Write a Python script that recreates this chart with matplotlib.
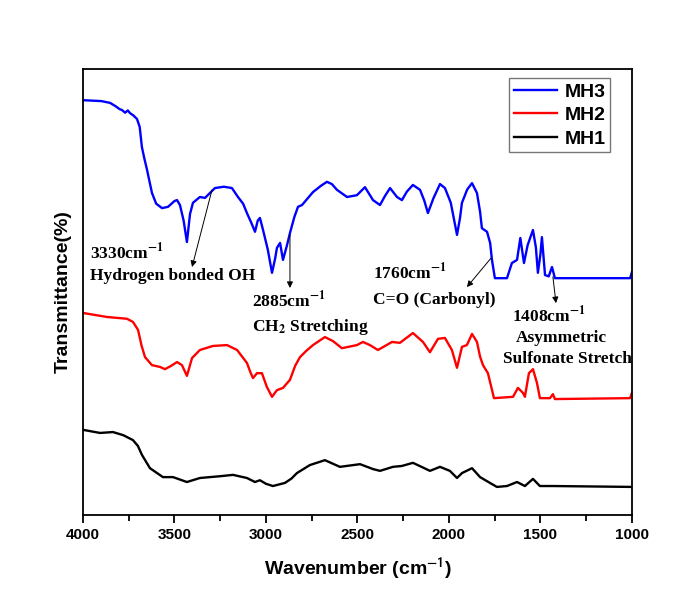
import numpy as np
import matplotlib
matplotlib.use("Agg")
import matplotlib.pyplot as plt
from matplotlib.ticker import MultipleLocator

plt.rcParams['font.family'] = ['Liberation Sans', 'DejaVu Sans']

# FTIR spectra (arbitrary transmittance units, offset curves)
mh3_w = [4000, 3900, 3852, 3820, 3800, 3787, 3770, 3755, 3743, 3725, 3705, 3690, 3678, 3665,
         3650, 3635, 3623, 3600, 3568, 3535, 3500, 3486, 3470, 3450, 3432, 3415, 3399,
         3361, 3333, 3279, 3230, 3186, 3153, 3125, 3104, 3080, 3060, 3045, 3033, 3016, 2990,
         2967, 2950, 2940, 2923, 2907, 2885, 2869, 2845,
         2825, 2803, 2743, 2700, 2667, 2640, 2612, 2557, 2503, 2459, 2415, 2377, 2350, 2322,
         2284, 2257, 2230, 2197, 2158, 2135, 2115, 2085, 2049, 2022, 1990, 1956, 1940, 1929,
         1900, 1874, 1847, 1830, 1820, 1792, 1775, 1765, 1749, 1683, 1656,
         1628, 1610, 1590, 1570, 1541, 1525, 1514, 1500, 1492, 1475, 1455, 1437, 1421, 1010, 1000]
mh3_t = [93.0, 92.8, 92.4, 91.6, 91.0, 90.8, 90.2, 90.7, 90.1, 89.6, 88.8, 87.0, 82.5, 80.0,
         77.4, 74.5, 72.2, 69.8, 68.8, 69.1, 70.4, 70.6, 69.5, 66.0, 61.2, 67.5, 70.0,
         71.3, 71.1, 73.3, 73.6, 73.3, 71.3, 69.8, 67.7, 65.5, 63.5, 66.0, 66.6, 63.9, 59.5,
         54.3, 57.5, 59.9, 61.0, 57.2, 60.5, 63.2, 66.8,
         69.1, 69.5, 72.4, 73.8, 74.7, 74.2, 72.9, 71.3, 71.7, 73.5, 70.6, 69.5, 71.5, 73.3,
         71.3, 70.6, 72.5, 74.0, 72.9, 70.5, 67.7, 71.0, 74.2, 73.3, 70.0, 62.8, 66.5, 70.0,
         73.0, 74.4, 72.2, 68.0, 64.3, 63.5, 61.0, 57.2, 53.1, 53.1, 56.5,
         57.2, 62.1, 56.5, 60.5, 63.9, 60.0, 54.3, 58.5, 62.3, 53.8, 53.5, 55.6, 53.1, 53.1, 54.5]

mh2_w = [4000, 3869, 3760, 3727, 3699, 3680, 3661, 3623, 3579, 3552, 3520, 3486, 3459, 3432,
         3404, 3361, 3290, 3213, 3158, 3104, 3085, 3071, 3049, 3022, 2995, 2967, 2940, 2907,
         2869, 2840, 2814, 2780, 2743, 2678, 2634, 2585, 2503, 2470, 2432, 2388, 2311, 2268,
         2197, 2142, 2104, 2060, 2022, 1984, 1956, 1929, 1902, 1874, 1847, 1830, 1814, 1787,
         1754, 1650, 1623, 1596, 1585, 1563, 1541, 1519, 1503, 1448, 1432, 1421, 1010, 1000]
mh2_t = [45.3, 44.4, 44.0, 43.3, 41.5, 38.0, 35.4, 33.6, 33.2, 32.7, 33.4, 34.3, 33.6, 31.2,
         35.2, 37.0, 37.9, 38.1, 37.0, 34.1, 32.0, 30.7, 31.8, 31.8, 28.7, 26.5, 28.0, 28.5,
         30.3, 33.5, 35.4, 36.8, 38.1, 39.9, 39.0, 37.4, 38.1, 38.8, 38.1, 37.0, 38.8, 38.6,
         40.8, 38.8, 36.5, 39.5, 39.7, 37.0, 33.0, 37.7, 38.1, 40.6, 38.8, 35.5, 33.6, 31.8,
         26.2, 26.5, 28.5, 27.4, 26.5, 31.8, 32.7, 29.6, 26.2, 26.2, 27.1, 26.0, 26.2, 27.4]

mh1_w = [4000, 3907, 3836, 3780, 3727, 3700, 3678, 3634, 3563, 3508, 3432, 3361, 3251, 3180,
         3104, 3060, 3033, 3000, 2962, 2896, 2860, 2831, 2760, 2678, 2596, 2486, 2415, 2377,
         2306, 2257, 2197, 2150, 2104, 2049, 1995, 1956, 1929, 1874, 1830, 1776, 1738, 1683,
         1628, 1585, 1541, 1503, 1432, 1000]
mh1_t = [19.1, 18.4, 18.6, 17.9, 16.8, 15.5, 13.5, 10.5, 8.5, 8.5, 7.4, 8.3, 8.7, 9.0,
         8.3, 7.4, 7.8, 7.0, 6.5, 7.2, 8.2, 9.4, 11.2, 12.3, 10.8, 11.4, 10.3, 9.9,
         10.8, 11.0, 11.7, 10.8, 9.9, 10.8, 9.9, 8.3, 9.4, 10.5, 8.5, 7.2, 6.3, 6.5,
         7.4, 6.5, 8.1, 6.5, 6.5, 6.3]

fig = plt.figure(figsize=(6.73, 5.89), dpi=100)
ax = fig.add_axes([0.1233, 0.1256, 0.8157, 0.7573])

ax.plot(mh3_w, mh3_t, color="#0000ff", lw=1.7, label="MH3")
ax.plot(mh2_w, mh2_t, color="#ff0000", lw=1.7, label="MH2")
ax.plot(mh1_w, mh1_t, color="#000000", lw=1.7, label="MH1")

ax.set_xlim(4000, 1000)
ax.set_ylim(0, 100)
ax.xaxis.set_major_locator(MultipleLocator(500))
ax.xaxis.set_minor_locator(MultipleLocator(250))
ax.tick_params(axis='x', which='major', direction='out', length=6, width=1.3, labelsize=11)
ax.tick_params(axis='x', which='minor', direction='out', length=4, width=1.3)
for lab in ax.get_xticklabels():
    lab.set_fontweight('bold')
ax.set_yticks([])
for s in ax.spines.values():
    s.set_linewidth(1.3)

ax.set_xlabel(r"Wavenumber (cm$^{\mathbf{-1}}$)", fontsize=14, fontweight='bold',
              math_fontfamily='stixsans', labelpad=10)
ax.set_ylabel("Transmittance(%)", fontsize=14, fontweight='bold', labelpad=8)

leg = ax.legend(loc='upper right', bbox_to_anchor=(0.968, 0.988),
                prop={'weight': 'bold', 'size': 14}, frameon=True, fancybox=False,
                handlelength=2.2, borderpad=0.25, labelspacing=0.3, handletextpad=0.4,
                borderaxespad=0.2)
leg.get_frame().set_edgecolor('#555555')
leg.get_frame().set_linewidth(1.0)

# annotations
tkw = dict(fontsize=12.5, fontweight='bold', family='Liberation Serif', math_fontfamily='stix')
ax.text(3962, 59.0, r"3330cm$^{\mathbf{-1}}$", ha='left', va='center', **tkw)
ax.text(3962, 53.6, "Hydrogen bonded OH", ha='left', va='center', **tkw)
ax.text(3077, 48.2, r"2885cm$^{\mathbf{-1}}$", ha='left', va='center', **tkw)
ax.text(3077, 42.2, r"CH$_{\mathbf{2}}$ Stretching", ha='left', va='center', **tkw)
ax.text(2415, 54.5, r"1760cm$^{\mathbf{-1}}$", ha='left', va='center', **tkw)
ax.text(2415, 48.2, "C=O (Carbonyl)", ha='left', va='center', **tkw)
ax.text(1656, 44.8, r"1408cm$^{\mathbf{-1}}$", ha='left', va='center', **tkw)
ax.text(1383, 39.7, "Asymmetric", ha='center', va='center', **tkw)
ax.text(1355, 35.0, "Sulfonate Stretch", ha='center', va='center', **tkw)

akw = dict(arrowstyle='-|>', color='black', lw=0.7, mutation_scale=9, shrinkA=0, shrinkB=0)
ax.annotate("", xy=(3404, 55.6), xytext=(3295, 72.9), arrowprops=akw)
ax.annotate("", xy=(2869, 50.9), xytext=(2869, 62.8), arrowprops=akw)
ax.annotate("", xy=(1902, 51.1), xytext=(1770, 57.6), arrowprops=akw)
ax.annotate("", xy=(1415, 47.5), xytext=(1432, 53.4), arrowprops=akw)

fig.savefig("out.png", dpi=100)
